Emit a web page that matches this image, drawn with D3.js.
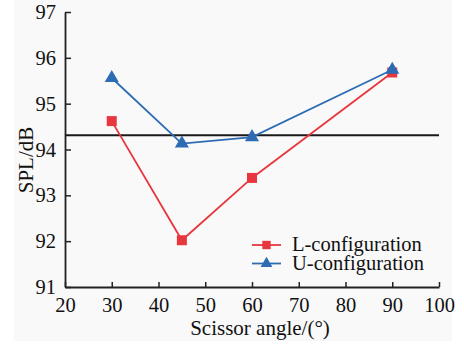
<!DOCTYPE html>
<html>
<head>
<meta charset="utf-8">
<script src="https://cdn.jsdelivr.net/npm/d3@7"></script>
<style>
  body { margin: 0; background: #fff; }
  svg text { font-family: "Liberation Serif", "Times New Roman", serif; fill: #111; }
</style>
</head>
<body>
<script>
var angles = [30, 45, 60, 90];
var lConfig = [94.62, 92.02, 93.38, 95.68];
var uConfig = [95.56, 94.13, 94.27, 95.74];
var refLevel = 94.31;
var xTicks = [20, 30, 40, 50, 60, 70, 80, 90, 100];
var yTicks = [91, 92, 93, 94, 95, 96, 97];
var seriesNames = ["L-configuration", "U-configuration"];

var width = 464, height = 347;
var margin = {left: 65, right: 25, top: 12, bottom: 60};
var serif = "'Liberation Serif', 'Times New Roman', serif";

var svg = d3.select("body").append("svg").attr("width", width).attr("height", height);
svg.append("rect").attr("x", 14).attr("y", 0).attr("width", 438).attr("height", 341).attr("fill", "#f9f9f9");

var x = d3.scaleLinear().domain([20, 100]).range([margin.left, width - margin.right]);
var y = d3.scaleLinear().domain([91, 97]).range([height - margin.bottom, margin.top]);

var gx = svg.append("g").attr("transform", "translate(0," + y(91) + ")")
    .call(d3.axisBottom(x).tickValues(xTicks).tickFormat(d3.format("d"))
        .tickSizeInner(-5).tickSizeOuter(0).tickPadding(10));
var gy = svg.append("g").attr("transform", "translate(" + x(20) + ",0)")
    .call(d3.axisLeft(y).tickValues(yTicks).tickFormat(d3.format("d"))
        .tickSizeInner(-6).tickSizeOuter(0).tickPadding(9));

[gx, gy].forEach(function (g) {
    g.attr("font-family", serif).attr("font-size", 20.5);
    g.select(".domain").attr("stroke", "#222").attr("stroke-width", 1.8);
    g.selectAll(".tick line").attr("stroke", "#222").attr("stroke-width", 1.5);
    g.selectAll(".tick text").attr("fill", "#111");
});

// reference line
svg.append("line")
    .attr("x1", x(20)).attr("x2", x(100))
    .attr("y1", y(refLevel)).attr("y2", y(refLevel))
    .attr("stroke", "#1a1a1a").attr("stroke-width", 2);

var colors = ["#e8363e", "#2d6cb3"];
var data = [lConfig, uConfig];
var line = d3.line().x(function (d, i) { return x(angles[i]); }).y(function (d) { return y(d); });

var sq = d3.symbol().type(d3.symbolSquare).size(100);
var tri = d3.symbol().type(d3.symbolTriangle).size(85);
var symbols = [sq, tri];

data.forEach(function (vals, k) {
    svg.append("path").datum(vals).attr("d", line)
        .attr("fill", "none").attr("stroke", colors[k]).attr("stroke-width", 1.8);
    svg.selectAll(".m" + k).data(vals).enter().append("path")
        .attr("transform", function (d, i) { return "translate(" + x(angles[i]) + "," + y(d) + ")"; })
        .attr("d", symbols[k]).attr("fill", colors[k]);
});

// legend
var lg = svg.append("g");
seriesNames.forEach(function (name, k) {
    var ly = 245 + k * 18.5;
    lg.append("line").attr("x1", 252).attr("x2", 281).attr("y1", ly).attr("y2", ly)
        .attr("stroke", colors[k]).attr("stroke-width", 1.8);
    lg.append("path").attr("transform", "translate(266.5," + ly + ")")
        .attr("d", k === 0 ? d3.symbol().type(d3.symbolSquare).size(70) : d3.symbol().type(d3.symbolTriangle).size(60))
        .attr("fill", colors[k]);
    lg.append("text").attr("x", 292).attr("y", ly + 6).attr("font-family", serif)
        .attr("font-size", 20.5).text(name);
});

svg.append("text").attr("x", 260).attr("y", 335).attr("font-family", serif)
    .attr("text-anchor", "middle").attr("font-size", 21).text("Scissor angle/(°)");

svg.append("text").attr("transform", "translate(33,160) rotate(-90)").attr("font-family", serif)
    .attr("text-anchor", "middle").attr("font-size", 21).text("SPL/dB");
</script>
</body>
</html>
